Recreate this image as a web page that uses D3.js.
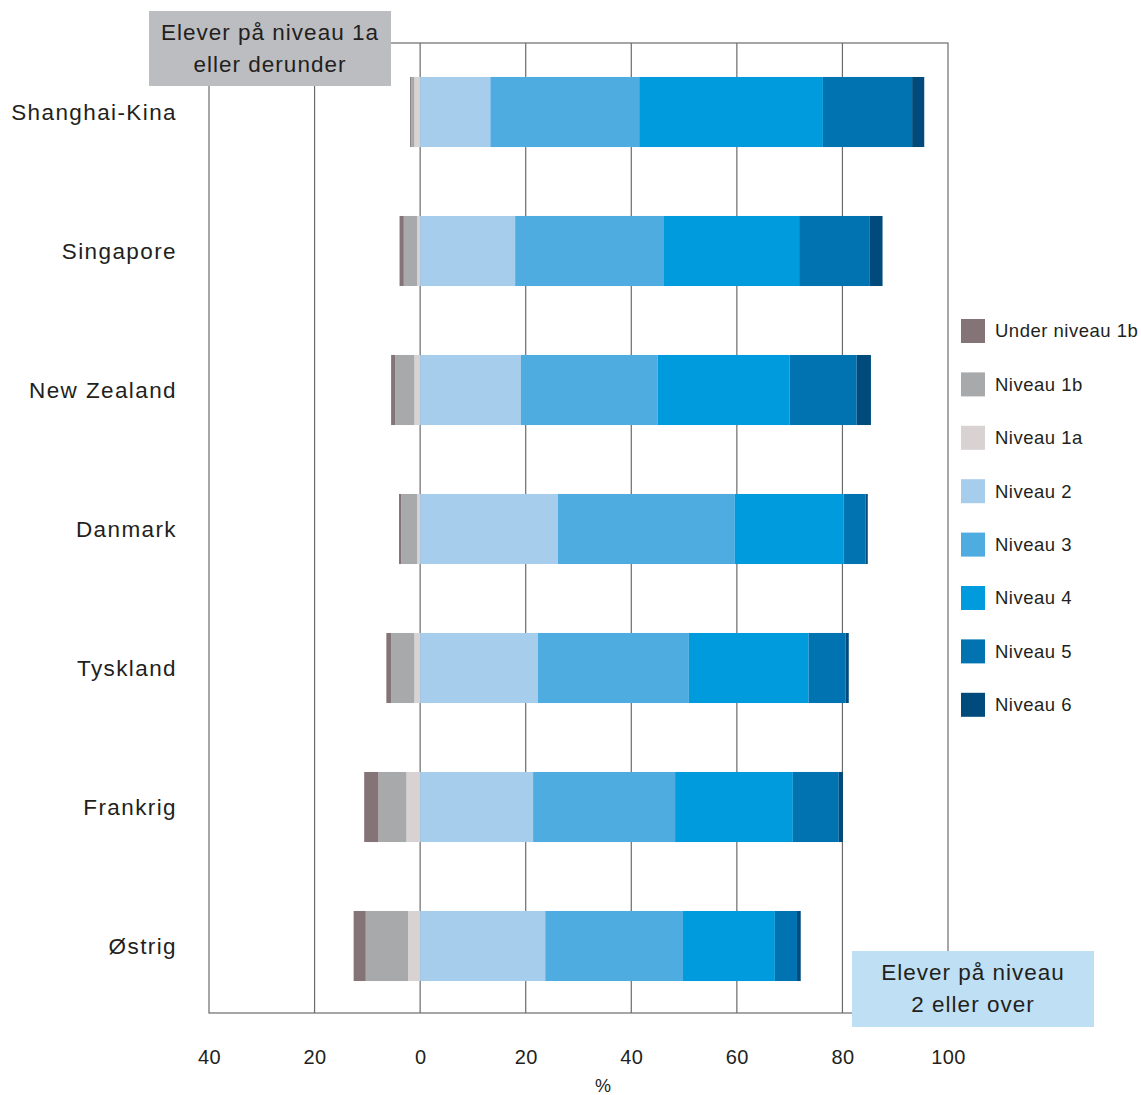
<!DOCTYPE html>
<html>
<head>
<meta charset="utf-8">
<script src="https://cdn.jsdelivr.net/npm/d3@7"></script>
<style>
  html, body { margin: 0; padding: 0; background: #fff; }
  svg { display: block; font-family: "Liberation Sans", Arial, sans-serif; }
</style>
</head>
<body>
<svg id="chart" width="1141" height="1095"></svg>
<script>
// Countries, top to bottom
const countries = ["Shanghai-Kina", "Singapore", "New Zealand", "Danmark", "Tyskland", "Frankrig", "Østrig"];

// Share of students (%) on each proficiency level
const underNiveau1b = [0.2, 0.8, 0.8, 0.4, 0.9, 2.7, 2.3];
const niveau1b      = [0.6, 2.5, 3.6, 3.0, 4.4, 5.3, 8.0];
const niveau1a      = [1.1, 0.6, 1.1, 0.6, 1.1, 2.6, 2.3];
const niveau2       = [13.3, 18.0, 19.1, 26.1, 22.3, 21.4, 23.7];
const niveau3       = [28.2, 28.2, 25.9, 33.5, 28.6, 26.9, 26.1];
const niveau4       = [34.8, 25.6, 25.0, 20.6, 22.7, 22.3, 17.4];
const niveau5       = [16.9, 13.3, 12.7, 4.2, 7.0, 8.7, 4.2];
const niveau6       = [2.3, 2.5, 2.7, 0.4, 0.6, 0.8, 0.7];

const levelNames = ["Under niveau 1b", "Niveau 1b", "Niveau 1a", "Niveau 2", "Niveau 3", "Niveau 4", "Niveau 5", "Niveau 6"];
const levelColors = ["#857477", "#a8a9ab", "#d8d2d2", "#a7cdec", "#4eace0", "#009bdc", "#0073b0", "#004b7b"];

const xTicks = [-40, -20, 0, 20, 40, 60, 80, 100];
const gridValues = [-20, 0, 20, 40, 60, 80];

const svg = d3.select("#chart");

const plot = { left: 209, right: 948, top: 43, bottom: 1013 };

const x = d3.scaleLinear().domain([-40, 100]).range([plot.left, plot.right]);
const y = d3.scaleBand().domain(countries).range([42.5, 1015.5]).paddingInner(0.496).paddingOuter(0.248);

// Vertical grid lines
svg.append("g").selectAll("line")
  .data(gridValues)
  .join("line")
  .attr("x1", d => x(d)).attr("x2", d => x(d))
  .attr("y1", plot.top).attr("y2", plot.bottom)
  .attr("stroke", "#6b6b6b").attr("stroke-width", 1.2);

// Plot frame
svg.append("rect")
  .attr("x", plot.left).attr("y", plot.top)
  .attr("width", plot.right - plot.left).attr("height", plot.bottom - plot.top)
  .attr("fill", "none").attr("stroke", "#6b6b6b").attr("stroke-width", 1.2);

// Build stacked segments: low levels extend left of zero, level 2+ to the right
const negSeries = [
  { i: 2, vals: niveau1a },
  { i: 1, vals: niveau1b },
  { i: 0, vals: underNiveau1b }
];
const posSeries = [
  { i: 3, vals: niveau2 },
  { i: 4, vals: niveau3 },
  { i: 5, vals: niveau4 },
  { i: 6, vals: niveau5 },
  { i: 7, vals: niveau6 }
];

const segments = [];
countries.forEach((c, ci) => {
  let acc = 0;
  negSeries.forEach(s => {
    const v = s.vals[ci];
    segments.push({ country: c, level: s.i, x0: -(acc + v), x1: -acc });
    acc += v;
  });
  acc = 0;
  posSeries.forEach(s => {
    const v = s.vals[ci];
    segments.push({ country: c, level: s.i, x0: acc, x1: acc + v });
    acc += v;
  });
});

svg.append("g").selectAll("rect")
  .data(segments)
  .join("rect")
  .attr("x", d => x(d.x0))
  .attr("width", d => x(d.x1) - x(d.x0))
  .attr("y", d => y(d.country))
  .attr("height", y.bandwidth())
  .attr("fill", d => levelColors[d.level]);

// Country labels
svg.append("g").selectAll("text")
  .data(countries)
  .join("text")
  .attr("x", 177)
  .attr("y", d => y(d) + y.bandwidth() / 2)
  .attr("dy", "0.35em")
  .attr("text-anchor", "end")
  .attr("font-size", 22.5)
  .attr("letter-spacing", 1.4)
  .attr("fill", "#231f20")
  .text(d => d);

// X axis
const xAxis = d3.axisBottom(x)
  .tickValues(xTicks)
  .tickFormat(d => Math.abs(d))
  .tickSize(0)
  .tickPadding(37);

const ax = svg.append("g")
  .attr("transform", `translate(0,${plot.bottom})`)
  .call(xAxis);
ax.select(".domain").remove();
ax.selectAll("text")
  .attr("font-size", 20)
  .attr("letter-spacing", 0.4)
  .attr("font-family", "Liberation Sans, Arial, sans-serif")
  .attr("fill", "#231f20");

svg.append("text")
  .attr("x", 603).attr("y", 1092)
  .attr("text-anchor", "middle")
  .attr("font-size", 18)
  .attr("fill", "#231f20")
  .text("%");

// Annotation boxes
function noteBox(bx, by, bw, bh, fill, lines) {
  const g = svg.append("g");
  g.append("rect")
    .attr("x", bx).attr("y", by).attr("width", bw).attr("height", bh)
    .attr("fill", fill);
  g.selectAll("text")
    .data(lines)
    .join("text")
    .attr("x", bx + bw / 2)
    .attr("y", (d, i) => by + 29 + i * 32)
    .attr("text-anchor", "middle")
    .attr("font-size", 22.5)
    .attr("letter-spacing", 1.0)
    .attr("fill", "#231f20")
    .text(d => d);
}
noteBox(149, 11, 242, 75, "#bcbdc1", ["Elever på niveau 1a", "eller derunder"]);
noteBox(852, 951, 242, 76, "#bfdff4", ["Elever på niveau", "2 eller over"]);

// Legend
const legend = svg.append("g").attr("transform", "translate(961,319)");
const item = legend.selectAll("g")
  .data(levelNames)
  .join("g")
  .attr("transform", (d, i) => `translate(0,${i * 53.4})`);
item.append("rect")
  .attr("width", 24).attr("height", 24)
  .attr("fill", (d, i) => levelColors[i]);
item.append("text")
  .attr("x", 34).attr("y", 12)
  .attr("dy", "0.35em")
  .attr("font-size", 18.5)
  .attr("letter-spacing", 0.5)
  .attr("fill", "#231f20")
  .text(d => d);
</script>
</body>
</html>
